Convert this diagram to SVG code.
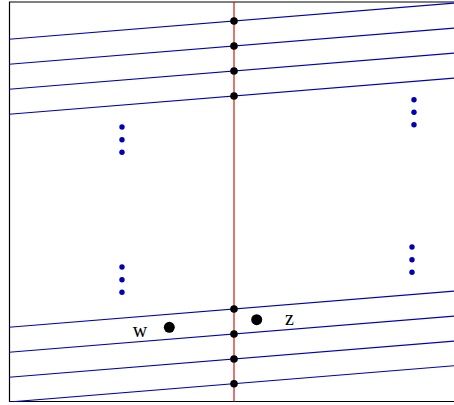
<svg xmlns="http://www.w3.org/2000/svg" width="454" height="405" viewBox="0 0 454 405">
<style>
.frame{fill:none;stroke:#000;stroke-width:1.2}
.blue{stroke:#0000b4;stroke-width:1.1;fill:none}
.red{stroke:#c80000;stroke-width:1.1;fill:none}
.bd{fill:#0000b4}
.kd{fill:#000}
.lbl{font-family:"Liberation Serif",serif;font-size:20px;fill:#000}
</style>
<defs><clipPath id="c"><rect x="9" y="2" width="445" height="400"/></clipPath></defs>
<g id="frame"><path class="frame" d="M454,2 H9.5 V401.5 H454"/></g>
<g id="connectors" clip-path="url(#c)">
<line class="blue" x1="9" y1="39.3" x2="454" y2="3.1"/>
<line class="blue" x1="9" y1="64.3" x2="454" y2="28.1"/>
<line class="blue" x1="9" y1="89.3" x2="454" y2="53.1"/>
<line class="blue" x1="9" y1="114.3" x2="454" y2="78.1"/>
<line class="blue" x1="9" y1="327.3" x2="454" y2="291.1"/>
<line class="blue" x1="9" y1="352.3" x2="454" y2="316.1"/>
<line class="blue" x1="9" y1="377.3" x2="454" y2="341.1"/>
<line class="blue" x1="9" y1="402" x2="454" y2="365.8"/>
<line class="red" x1="234" y1="2" x2="234" y2="402"/>
</g>
<g id="intersections">
<circle class="kd" cx="234" cy="21" r="3.8"/>
<circle class="kd" cx="234" cy="46" r="3.8"/>
<circle class="kd" cx="234" cy="71" r="3.8"/>
<circle class="kd" cx="234" cy="96" r="3.8"/>
<circle class="kd" cx="234" cy="309" r="3.8"/>
<circle class="kd" cx="234" cy="334" r="3.8"/>
<circle class="kd" cx="234" cy="359" r="3.8"/>
<circle class="kd" cx="234" cy="383.7" r="3.8"/>
</g>
<g id="ellipses">
<circle class="bd" cx="122" cy="127" r="2.7"/>
<circle class="bd" cx="122" cy="139.7" r="2.7"/>
<circle class="bd" cx="122" cy="152.3" r="2.7"/>
<circle class="bd" cx="122" cy="267" r="2.7"/>
<circle class="bd" cx="122" cy="279.7" r="2.7"/>
<circle class="bd" cx="122" cy="292.3" r="2.7"/>
<circle class="bd" cx="414" cy="99.7" r="2.7"/>
<circle class="bd" cx="414" cy="112.2" r="2.7"/>
<circle class="bd" cx="414" cy="124.7" r="2.7"/>
<circle class="bd" cx="412" cy="247" r="2.7"/>
<circle class="bd" cx="412" cy="259.7" r="2.7"/>
<circle class="bd" cx="412" cy="272.3" r="2.7"/>
</g>
<g id="node-w">
<circle class="kd" cx="169.3" cy="327.3" r="5.5"/>
<text class="lbl" x="140" y="336.5" text-anchor="middle">w</text>
</g>
<g id="node-z">
<circle class="kd" cx="256.7" cy="319.7" r="5.5"/>
<text class="lbl" x="289.5" y="325" text-anchor="middle">z</text>
</g>
</svg>
